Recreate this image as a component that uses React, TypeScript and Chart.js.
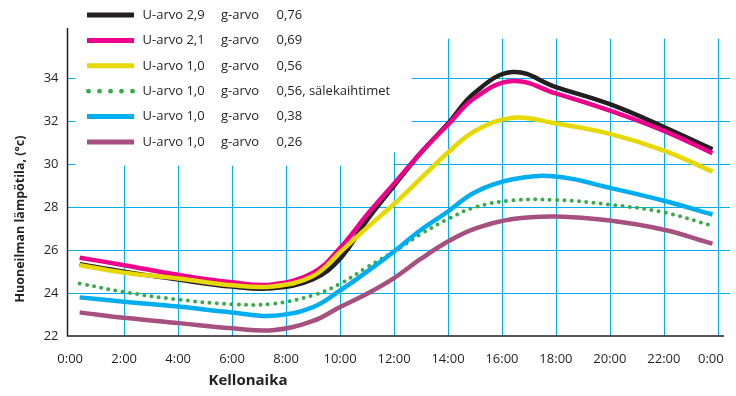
import React, { useEffect, useRef } from "react";
import { Chart, registerables } from "chart.js";

Chart.register(...registerables);

const hours = [0.35, 2, 4, 6, 7.5, 9, 10, 11, 12, 13, 14, 15, 16.4, 18, 20, 22, 23.8];
const blackU29 = [25.35, 25.0, 24.63, 24.3, 24.22, 24.65, 25.6, 27.4, 29.0, 30.55, 31.9, 33.35, 34.3, 33.6, 32.8, 31.74, 30.7];
const magentaU21 = [25.65, 25.3, 24.85, 24.5, 24.4, 24.95, 26.1, 27.65, 29.1, 30.55, 31.85, 33.1, 33.88, 33.3, 32.5, 31.56, 30.52];
const yellowU10 = [25.3, 24.95, 24.68, 24.36, 24.31, 24.8, 25.9, 27.05, 28.15, 29.35, 30.55, 31.55, 32.17, 31.9, 31.42, 30.64, 29.66];
const greenBlinds = [24.45, 24.05, 23.7, 23.48, 23.5, 23.9, 24.43, 25.2, 25.94, 26.75, 27.45, 28.0, 28.32, 28.34, 28.12, 27.76, 27.13];
const blueU10 = [23.8, 23.6, 23.37, 23.1, 22.94, 23.35, 24.12, 25.0, 25.94, 26.95, 27.8, 28.7, 29.3, 29.43, 28.9, 28.3, 27.66];
const purpleU10 = [23.1, 22.85, 22.6, 22.36, 22.27, 22.7, 23.35, 23.97, 24.7, 25.6, 26.4, 27.0, 27.45, 27.57, 27.38, 26.95, 26.3];

const xTicks = [0, 2, 4, 6, 8, 10, 12, 14, 16, 18, 20, 22, 24];
const yTicks = [22, 24, 26, 28, 30, 32, 34];
const xTickLabels = ["0:00", "2:00", "4:00", "6:00", "8:00", "10:00", "12:00", "14:00", "16:00", "18:00", "20:00", "22:00", "0:00"];

const legendU = ["U-arvo 2,9", "U-arvo 2,1", "U-arvo 1,0", "U-arvo 1,0", "U-arvo 1,0", "U-arvo 1,0"];
const legendG = ["g-arvo", "g-arvo", "g-arvo", "g-arvo", "g-arvo", "g-arvo"];
const legendV = ["0,76", "0,69", "0,56", "0,56, sälekaihtimet", "0,38", "0,26"];

const xTitle = "Kellonaika";
const yTitle = "Huoneilman lämpötila, (°c)";

const COLORS = ["#231f20", "#ec008c", "#e6d800", "#3aaa48", "#00aeef", "#a5507f"];
const GRID = "#00aeef";
const INK = "#231f20";
const FONT = "'Open Sans', sans-serif";

const series = [blackU29, magentaU21, yellowU10, greenBlinds, blueU10, purpleU10];

const customPlugin = {
  id: "custom",
  beforeDatasetsDraw(chart: any) {
    const ctx = chart.ctx;
    const xs = chart.scales.x;
    const ys = chart.scales.y;
    const area = chart.chartArea;
    ctx.save();
    ctx.strokeStyle = GRID;
    ctx.lineWidth = 1;
    for (const v of yTicks) {
      if (v === 22) continue;
      const y = Math.round(ys.getPixelForValue(v)) + 0.5;
      ctx.beginPath();
      ctx.moveTo(area.left, y);
      ctx.lineTo(area.right, y);
      ctx.stroke();
    }
    const topV = ys.getPixelForValue(35.85);
    for (const h of xTicks) {
      if (h === 0) continue;
      const x = Math.round(xs.getPixelForValue(h)) + 0.5;
      ctx.beginPath();
      ctx.moveTo(x, topV);
      ctx.lineTo(x, area.bottom);
      ctx.stroke();
    }
    ctx.fillStyle = "#ffffff";
    const l0 = area.left + 8;
    const x12 = xs.getPixelForValue(12);
    const y30 = ys.getPixelForValue(30);
    ctx.fillRect(l0, 0, x12 - l0 - 0.5, y30 + 1.5);
    ctx.fillRect(x12 - 1, 0, 412 - x12 + 1, y30 - 12);
    ctx.strokeStyle = INK;
    ctx.lineWidth = 1.5;
    ctx.beginPath();
    ctx.moveTo(area.left, area.top);
    ctx.lineTo(area.left, area.bottom);
    ctx.lineTo(area.right - 6, area.bottom);
    ctx.stroke();

    ctx.textBaseline = "middle";
    ctx.textAlign = "left";
    ctx.font = `13px ${FONT}`;
    for (let i = 0; i < 6; i++) {
      const y = 15 + i * 25.4;
      if (i === 3) {
        ctx.fillStyle = COLORS[i];
        for (let k = 0; k < 5; k++) {
          ctx.beginPath();
          ctx.arc(88.5 + k * 11, y, 2.4, 0, Math.PI * 2);
          ctx.fill();
        }
      } else {
        ctx.strokeStyle = COLORS[i];
        ctx.lineWidth = 5;
        ctx.lineCap = "butt";
        ctx.beginPath();
        ctx.moveTo(87, y);
        ctx.lineTo(134, y);
        ctx.stroke();
      }
      ctx.fillStyle = INK;
      ctx.fillText(legendU[i], 142.5, y);
      ctx.fillText(legendG[i], 221, y);
      ctx.fillText(legendV[i], 276.5, y);
    }

    ctx.textAlign = "center";
    ctx.font = `13px ${FONT}`;
    xTicks.forEach((h, i) => {
      let x = xs.getPixelForValue(h);
      if (i === xTicks.length - 1) x -= 7;
      ctx.fillText(xTickLabels[i], x, 359);
    });

    ctx.font = `bold 15px ${FONT}`;
    ctx.fillText(xTitle, 248, 381);
    ctx.font = `bold 12.5px ${FONT}`;
    ctx.save();
    ctx.translate(20, 219);
    ctx.rotate(-Math.PI / 2);
    ctx.fillText(yTitle, 0, 0);
    ctx.restore();
    ctx.restore();
  },
};

export default function App() {
  const ref = useRef<HTMLCanvasElement>(null);
  useEffect(() => {
    document.body.style.margin = "0";
    const datasets = series.map((vals, i) => ({
      label: legendU[i],
      data: hours.map((h, j) => ({ x: h, y: vals[j] })),
      borderColor: COLORS[i],
      backgroundColor: COLORS[i],
      borderWidth: i === 3 ? 4 : 4.5,
      borderDash: i === 3 ? [0, 7.3] : [],
      borderCapStyle: i === 3 ? "round" : "butt",
      pointRadius: 0,
      tension: 0.4,
      fill: false,
      order: 6 - i,
    }));
    const chart = new Chart(ref.current!, {
      type: "line",
      data: { datasets } as any,
      options: {
        animation: false,
        responsive: false,
        devicePixelRatio: 1,
        layout: { padding: { top: 28, right: 6, left: 0, bottom: 0 } },
        plugins: { legend: { display: false }, tooltip: { enabled: false } },
        scales: {
          x: {
            type: "linear",
            min: -0.1,
            max: 24.45,
            grid: { display: false, drawTicks: false },
            border: { display: false },
            ticks: { display: false },
            afterFit(scale: any) {
              scale.height = 60;
            },
            afterBuildTicks(scale: any) {
              scale.ticks = xTicks.map((v) => ({ value: v }));
            },
          },
          y: {
            type: "linear",
            min: 22,
            max: 36.35,
            grid: { display: false, drawTicks: false },
            border: { display: false },
            ticks: {
              padding: 9,
              color: INK,
              font: { family: "'Open Sans', sans-serif", size: 13 },
              callback: (v: any) => String(v),
            },
            afterFit(scale: any) {
              scale.width = 67.5;
            },
            afterBuildTicks(scale: any) {
              scale.ticks = yTicks.map((v) => ({ value: v }));
            },
          },
        },
      },
      plugins: [customPlugin],
    } as any);
    return () => chart.destroy();
  }, []);
  return (
    <div style={{ width: 736, height: 396 }}>
      <canvas ref={ref} width={736} height={396} style={{ display: "block" }} />
    </div>
  );
}
